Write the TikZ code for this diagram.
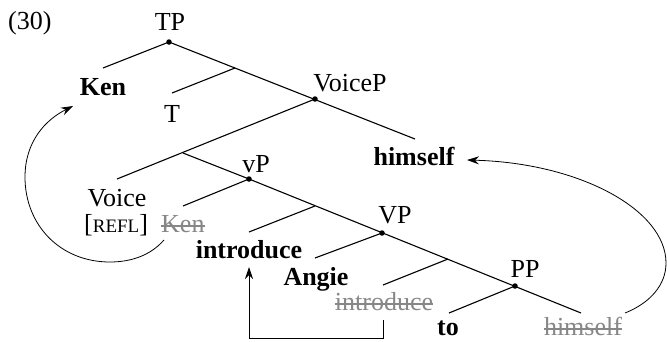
\documentclass[tikz,border=0pt]{standalone}
\usepackage{fontspec}
\setmainfont{Liberation Serif}
\usetikzlibrary{arrows.meta}
\definecolor{trace}{RGB}{135,135,135}

\begin{document}
\begin{tikzpicture}[x=1pt,y=-1pt,
  lbl/.style={anchor=base,inner sep=0pt,font=\fontsize{26}{30}\selectfont},
  word/.style={lbl,font=\fontsize{26}{30}\selectfont\bfseries},
  copy/.style={lbl,text=trace},
  branch/.style={line width=1.1pt},
  dot/.style={circle,fill,inner sep=0pt,minimum size=5.5pt},
  strike/.style={trace,line width=1.6pt},
  move/.style={line width=0.8pt,-{Stealth[length=12pt,width=8pt,inset=4pt]}}]

\useasboundingbox (0,0) rectangle (667,341);

% branching points of the tree
\coordinate (tp) at (169,42);
\coordinate (kenend) at (103,68);
\coordinate (b1) at (235,68);
\coordinate (tend) at (172,93);
\coordinate (voicep) at (315,99);
\coordinate (himend) at (415,139);
\coordinate (voiceend) at (117,179);
\coordinate (b2) at (183,153);
\coordinate (vp) at (249,179);
\coordinate (kentrend) at (183,206);
\coordinate (b3) at (315,206);
\coordinate (introend) at (249,232);
\coordinate (VP) at (382,233);
\coordinate (angieend) at (315,258);
\coordinate (b4) at (448,259);
\coordinate (introtrend) at (383,285);
\coordinate (pp) at (515,286);
\coordinate (toend) at (449,313);
\coordinate (himtrend) at (581,313);

% labels
\node[lbl,anchor=base west] (exnum) at (8,29) {(30)};
\node[lbl] (tplbl) at (170,30) {TP};
\node[word] (ken) at (103,95) {Ken};
\node[lbl] (t) at (172,122) {T};
\node[lbl] (voiceplbl) at (350,91) {VoiceP};
\node[word] (himself) at (414,165) {himself};
\node[lbl] (vplbl) at (256,172) {vP};
\node[lbl] (voice) at (117,206) {Voice};
\node[lbl,anchor=base west] (refl) at (84,232) {[{\fontsize{19}{22}\selectfont REFL}]};
\node[copy,anchor=base west] (kentr) at (161,232) {Ken};
\node[word] (introduce) at (249,258) {introduce};
\node[word] (angie) at (316,285) {Angie};
\node[copy] (introtr) at (384,310) {introduce};
\node[lbl] (VPlbl) at (395,223) {VP};
\node[lbl] (pplbl) at (525,277) {PP};
\node[word] (to) at (448,335) {to};
\node[copy] (himtr) at (583,335) {himself};

% strike-through on the lower copies
\foreach \n in {kentr,introtr,himtr}
  \draw[strike] ([yshift=6pt]\n.base west) -- ([yshift=6pt]\n.base east);

% tree branches
\draw[branch] (tp) -- (kenend);
\draw[branch] (tp) -- (himend);
\draw[branch] (b1) -- (tend);
\draw[branch] (voicep) -- (voiceend);
\draw[branch] (b2) -- (vp);
\draw[branch] (vp) -- (kentrend);
\draw[branch] (vp) -- (himtrend);
\draw[branch] (b3) -- (introend);
\draw[branch] (VP) -- (angieend);
\draw[branch] (b4) -- (introtrend);
\draw[branch] (pp) -- (toend);

\foreach \p in {tp,voicep,vp,VP,pp}
  \node[dot] at (\p) {};

% movement arrows
\coordinate (kfrom) at (164,240);
\coordinate (kto) at (73,106);
\draw[move] (kfrom) .. controls (150,256) and (130,262) .. (110,262)
  .. controls (60,262) and (25,225) .. (25,177)
  .. controls (25,142) and (45,120) .. (kto);

\coordinate (hfrom) at (625,313);
\coordinate (hto) at (467,160);
\draw[move] (hfrom) .. controls (650,303) and (666,285) .. (666,263)
  .. controls (666,210) and (580,163) .. (hto);

\coordinate (ifrom) at (383,320);
\coordinate (ito) at (249,267);
\draw[move] (ifrom) -- (383,338) -- (249,338) -- (ito);

\end{tikzpicture}
\end{document}
